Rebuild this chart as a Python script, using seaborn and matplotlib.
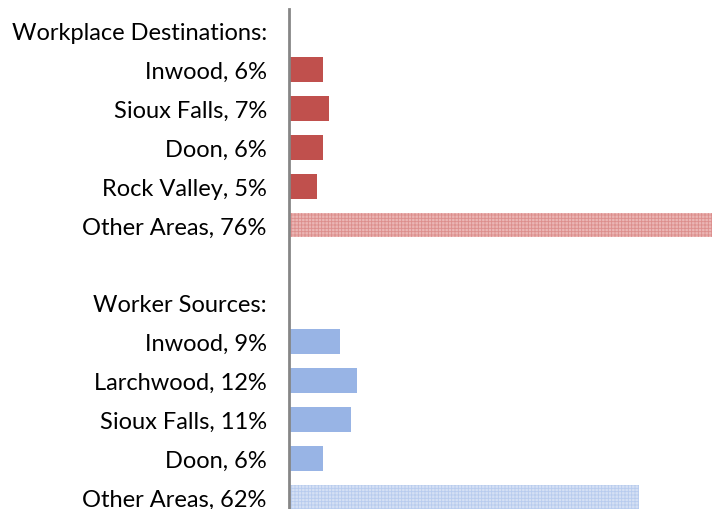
import matplotlib
matplotlib.use("Agg")
import matplotlib.pyplot as plt
import seaborn as sns
import pandas as pd

# Rows, top to bottom (headers and a spacer row have no bar)
row_labels = [
    "Workplace Destinations:",
    "Inwood, 6%", "Sioux Falls, 7%", "Doon, 6%", "Rock Valley, 5%", "Other Areas, 76%",
    "",
    "Worker Sources:",
    "Inwood, 9%", "Larchwood, 12%", "Sioux Falls, 11%", "Doon, 6%", "Other Areas, 62%",
]
row_values = [0, 6, 7, 6, 5, 76, 0, 0, 9, 12, 11, 6, 62]
row_group = ["dest"] * 6 + ["none", "src"] + ["src"] * 5
row_other = [False, False, False, False, False, True, False, False,
             False, False, False, False, True]

sns.set_theme(style="white")
plt.rcParams["font.family"] = ["Lato", "DejaVu Sans"]
plt.rcParams["hatch.linewidth"] = 0.6

df = pd.DataFrame({
    "key": [f"r{i}" for i in range(len(row_labels))],
    "value": row_values,
    "group": row_group,
})

solid = {"dest": "#C0504D", "src": "#98B4E5", "none": "#FFFFFF"}
light = {"dest": ("#EBB6B5", "#DC8E8C"), "src": ("#D5E0F4", "#B7CBEE")}

fig = plt.figure(figsize=(7.12, 5.10), dpi=100)
ax = fig.add_axes([289 / 712, 0.0, 423 / 712, 500 / 510])

sns.barplot(data=df, x="value", y="key", order=list(df["key"]), orient="h",
            color="#C0504D", width=0.64, saturation=1, ax=ax, linewidth=0)

for patch, grp, other in zip(ax.patches, row_group, row_other):
    if grp == "none":
        patch.set_visible(False)
        continue
    if other:
        face, hatch_col = light[grp]
        patch.set_facecolor(face)
        patch.set_edgecolor(hatch_col)
        patch.set_hatch("+++++")
        patch.set_linewidth(0)
    else:
        patch.set_facecolor(solid[grp])

ax.set_xlim(0, 74.9)
ax.set_ylim(12.31, -0.56)
ax.set_xticks([])
ax.set_yticks(range(len(row_labels)))
ax.set_yticklabels(row_labels, fontsize=17, color="#000000")
ax.tick_params(axis="y", length=0, pad=16)
ax.set_xlabel("")
ax.set_ylabel("")
for side in ["top", "right", "bottom"]:
    ax.spines[side].set_visible(False)
ax.spines["left"].set_color("#868686")
ax.spines["left"].set_linewidth(2)

fig.savefig("out.png", dpi=100)
